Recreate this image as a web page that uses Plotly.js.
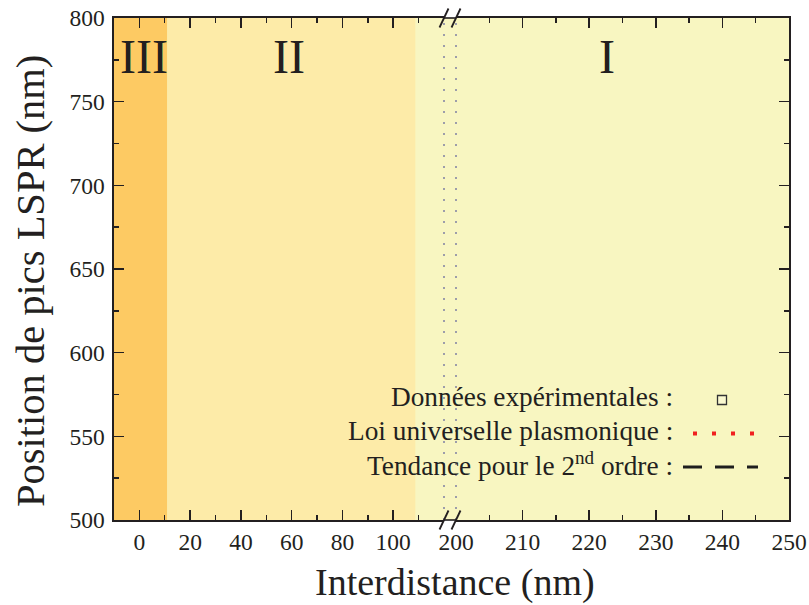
<!DOCTYPE html>
<html>
<head>
<meta charset="utf-8">
<script src="https://cdn.plot.ly/plotly-3.0.1.min.js"></script>
<style>body{margin:0;padding:0;background:#fff}#chart{width:809px;height:605px}</style>
</head>
<body>
<div id="chart"></div>
<script>
// ---- data ----
const regionLabels = ['III', 'II', 'I'];
const regionStart = [-10, 11, 108.7];
const regionEnd = [11, 108.7, 250];
const regionLabelX = [2, 59, 222.7];
const regionLabelAxis = ['x', 'x', 'x2'];
const regionLabelY = [777, 777, 777];
const leftTicks = [0, 20, 40, 60, 80, 100];
const leftMinor = [10, 30, 50, 70, 90, 110];
const rightTicks = [200, 210, 220, 230, 240, 250];
const rightMinor = [205, 215, 225, 235, 245];
const yTicks = [500, 550, 600, 650, 700, 750, 800];
const yMinor = [525, 575, 625, 675, 725, 775];
const leftRange = [-10, 120];
const rightRange = [200, 250];
const yRange = [500, 800];
const legendLabels = ['Données expérimentales :', 'Loi universelle plasmonique :', 'Tendance pour le 2<sup>nd</sup> ordre :'];
// series (no points shown in the figure)
const expX = [], expY = [];
const lawX = [], lawY = [];
const trendX = [], trendY = [];
const xTitle = 'Interdistance (nm)';
const yTitle = 'Position de pics LSPR (nm)';

// ---- layout helpers ----
const W = 809, H = 605, ML = 114, MR = 20, MT = 18, MB = 85;
const PW = W - ML - MR, PH = H - MT - MB;
const PX = p => (p - ML) / PW;
const PY = p => (H - MB - p) / PH;
const d1 = PX(444), d2 = PX(456);
const FONT = "'Liberation Serif', 'Times New Roman', Times, serif";
const AX = '#231f20';
const regionColors = ['#fdca63', '#fdeba8', '#f8f6c1'];

const traces = [
  {x: expX, y: expY, xaxis: 'x', yaxis: 'y', mode: 'markers', marker: {symbol: 'square-open', color: '#444'}, showlegend: false},
  {x: lawX, y: lawY, xaxis: 'x2', yaxis: 'y', mode: 'lines', line: {color: '#f02020', dash: 'dot'}, showlegend: false},
  {x: trendX, y: trendY, xaxis: 'x2', yaxis: 'y2', mode: 'lines', line: {color: '#222', dash: 'dash'}, showlegend: false}
];

const tickFont = {family: FONT, size: 23.5, color: '#231f20'};
const minorCommon = {ticks: 'inside', ticklen: 5, tickwidth: 1.4, tickcolor: AX};
function axisBase(extra) {
  return Object.assign({
    ticks: 'inside', ticklen: 10, tickwidth: 1.6, tickcolor: AX,
    showline: true, linecolor: AX, linewidth: 1.6, showgrid: false, zeroline: false,
    tickfont: Object.assign({}, tickFont), fixedrange: true
  }, extra);
}

const shapes = [];
// region I background (full), then II and III on top
shapes.push({type: 'rect', xref: 'paper', yref: 'paper', x0: 0, x1: 1, y0: 0, y1: 1, fillcolor: regionColors[2], line: {width: 0}, layer: 'below'});
for (let i = 0; i < 2; i++) {
  shapes.push({type: 'rect', xref: 'x', yref: 'paper', x0: regionStart[i], x1: regionEnd[i], y0: 0, y1: 1, fillcolor: regionColors[i], line: {width: 0}, layer: 'below'});
}
// dotted break boundaries
[d1, d2].forEach(d => shapes.push({type: 'line', xref: 'paper', yref: 'paper', x0: d, x1: d, y0: 0, y1: 1, line: {color: '#9d9daa', width: 2, dash: '2px,9px'}, layer: 'below'}));
// axis line across the gap
[0, 1].forEach(yy => shapes.push({type: 'line', xref: 'paper', yref: 'paper', x0: d1, x1: d2, y0: yy, y1: yy, line: {color: AX, width: 1.6}}));
// break slashes
[d1, d2].forEach(d => [0, 1].forEach(yy => shapes.push({
  type: 'line', xref: 'paper', yref: 'paper', xsizemode: 'pixel', ysizemode: 'pixel',
  xanchor: d, yanchor: yy, x0: -4.5, x1: 4.5, y0: -9.5, y1: 9.5, line: {color: AX, width: 1.8}
})));
// legend keys
shapes.push({type: 'rect', xref: 'paper', yref: 'paper', x0: PX(717.5), x1: PX(726.5), y0: PY(404.5), y1: PY(395.5), line: {color: '#333', width: 1.3}, fillcolor: 'rgba(255,255,255,0.25)'});
shapes.push({type: 'line', xref: 'paper', yref: 'paper', x0: PX(693), x1: PX(754), y0: PY(433.5), y1: PY(433.5), line: {color: '#f02020', width: 4, dash: '4px,15px'}});
shapes.push({type: 'line', xref: 'paper', yref: 'paper', x0: PX(683), x1: PX(758), y0: PY(467), y1: PY(467), line: {color: '#1e1e1e', width: 3, dash: '19px,13px'}});

const annotations = [];
regionLabels.forEach((t, i) => annotations.push({
  text: t, x: regionLabelX[i], y: regionLabelY[i], xref: regionLabelAxis[i], yref: 'y',
  showarrow: false, font: {family: FONT, size: 48, color: '#231f20'}, xanchor: 'center', yanchor: 'middle'
}));
const legendY = [397, 431, 464];
legendLabels.forEach((t, i) => annotations.push({
  text: t, x: PX(675), y: PY(legendY[i]), xref: 'paper', yref: 'paper', showarrow: false,
  xanchor: 'right', yanchor: 'middle', font: {family: FONT, size: 27.3, color: '#231f20'}
}));
annotations.push({text: xTitle, x: PX(455), y: PY(582), xref: 'paper', yref: 'paper', showarrow: false,
  xanchor: 'center', yanchor: 'middle', font: {family: FONT, size: 38, color: '#231f20'}});
annotations.push({text: yTitle, x: PX(30), y: PY(281), xref: 'paper', yref: 'paper', showarrow: false, textangle: -90,
  xanchor: 'center', yanchor: 'middle', font: {family: FONT, size: 40.5, color: '#231f20'}});

const layout = {
  width: W, height: H, margin: {l: ML, r: MR, t: MT, b: MB, pad: 0},
  font: {family: FONT, size: 23, color: '#231f20'},
  paper_bgcolor: '#ffffff', plot_bgcolor: '#ffffff', showlegend: false,
  xaxis: axisBase({domain: [0, d1], range: leftRange, anchor: 'y', mirror: 'ticks',
    tickmode: 'array', tickvals: leftTicks, ticktext: leftTicks.map(String),
    minor: Object.assign({tickmode: 'array', tickvals: leftMinor}, minorCommon)}),
  xaxis2: axisBase({domain: [d2, 1], range: rightRange, anchor: 'y', mirror: 'ticks',
    tickmode: 'array', tickvals: rightTicks, ticktext: rightTicks.map(String),
    minor: Object.assign({tickmode: 'array', tickvals: rightMinor}, minorCommon)}),
  yaxis: axisBase({domain: [0, 1], range: yRange, anchor: 'x', side: 'left', ticklabelstandoff: 3,
    tickmode: 'array', tickvals: yTicks, ticktext: yTicks.map(String),
    minor: Object.assign({tickmode: 'array', tickvals: yMinor}, minorCommon)}),
  yaxis2: axisBase({domain: [0, 1], range: yRange, anchor: 'x2', side: 'right', overlaying: 'y',
    showticklabels: false, tickmode: 'array', tickvals: yTicks,
    minor: Object.assign({tickmode: 'array', tickvals: yMinor}, minorCommon)}),
  shapes: shapes,
  annotations: annotations
};

Plotly.newPlot('chart', traces, layout, {displayModeBar: false, staticPlot: true});
</script>
</body>
</html>
